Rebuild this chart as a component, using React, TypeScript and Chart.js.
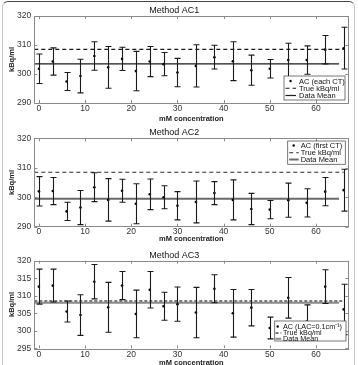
import React, { useEffect, useRef } from "react";
import { Chart, registerables } from "chart.js";

Chart.register(...registerables);

// ---------- data ----------
const concentrations = [0, 3, 6, 9, 12, 15, 18, 21, 24, 27, 30, 34, 38, 42, 46, 50, 54, 58, 62, 66];

const ac1Values = [301.8, 304.3, 297.4, 299.3, 306.2, 302.3, 305.2, 301.0, 304.3, 303.4, 300.5, 302.8, 305.8, 304.4, 301.3, 301.8, 304.8, 304.8, 308.4, 308.9];
const ac1Errors = [5.1, 4.7, 3.1, 5.8, 4.9, 7.2, 4.0, 6.8, 5.2, 4.0, 4.9, 7.3, 4.1, 6.7, 5.2, 3.2, 5.8, 4.9, 4.9, 7.2];

const ac2Values = [302.0, 302.1, 295.2, 296.5, 303.4, 299.1, 302.2, 297.8, 301.0, 300.0, 297.1, 298.4, 301.4, 299.1, 296.0, 295.8, 299.0, 298.1, 301.9, 302.4];
const ac2Errors = [5.0, 4.6, 3.1, 5.8, 4.9, 7.2, 3.9, 6.8, 5.2, 3.9, 4.8, 7.1, 3.9, 6.8, 5.3, 3.1, 5.8, 4.8, 4.8, 7.1];

const ac3Values = [312.6, 312.9, 305.5, 304.5, 314.0, 306.7, 312.9, 304.8, 311.7, 307.0, 307.6, 305.2, 312.0, 305.0, 306.6, 300.8, 309.4, 302.6, 312.6, 306.1];
const ac3Errors = [5.0, 4.7, 3.0, 5.8, 4.9, 7.1, 4.0, 6.8, 5.2, 4.0, 4.9, 7.2, 4.0, 6.8, 5.2, 3.1, 5.8, 4.8, 4.8, 7.2];

const trueValue = 308.5;
const dataMeans = [303.5, 299.5, 308.0];
const trueLineX = [-1, 66];
const meanLineX = [-1, 65];

const xTickValues = [0, 10, 20, 30, 40, 50, 60];
const yTicksAC12 = [290, 300, 310, 320];
const yTicksAC3 = [295, 300, 305, 310, 315, 320];

const panelTitles = ["Method AC1", "Method AC2", "Method AC3"];
const pointLabels = ["AC (each CT)", "AC (first CT)", "AC (LAC=0.1cm\u207B\u00B9)"];
const trueLabel = "True kBq/ml";
const meanLabel = "Data Mean";
const xAxisLabel = "mM concentration";
const yAxisLabel = "kBq/ml";

// ---------- styles / layout ----------
const FAMILY = "'Liberation Sans', Arial, Helvetica, sans-serif";

const panels = [
  {
    top: 0, height: 123, titlePad: 5.2, xAxisHeight: 20, tickPad: 1,
    yMin: 290, yMax: 320, yTicks: yTicksAC12,
    values: ac1Values, errors: ac1Errors, mean: dataMeans[0],
    title: panelTitles[0], pointLabel: pointLabels[0],
    meanStyle: { color: "#1a1a1a", width: 1.2 },
    trueStyle: { color: "#1a1a1a", width: 1.1, dash: [4, 3] },
    legend: { anchor: "bottom", dx: 3.3, dy: 3, w: 61, h: 24, rows: [5, 12.3, 19.5], s0: 1.5, s1: 12, dot: 6.5, tx: 15, font: 7.5 },
  },
  {
    top: 123, height: 120, titlePad: 4.5, xAxisHeight: 16.3, tickPad: 0,
    yMin: 290, yMax: 320, yTicks: yTicksAC12,
    values: ac2Values, errors: ac2Errors, mean: dataMeans[1],
    title: panelTitles[1], pointLabel: pointLabels[1],
    meanStyle: { color: "#6a6a6a", width: 2 },
    trueStyle: { color: "#2a2a2a", width: 1.1, dash: [4, 3] },
    legend: { anchor: "top", dx: 3, dy: 2.7, w: 57.6, h: 23.3, rows: [4.5, 11.7, 18.5], s0: 1.5, s1: 11, dot: 6, tx: 13, font: 7.5 },
  },
  {
    top: 245, height: 122, titlePad: 4.9, xAxisHeight: 18.7, tickPad: 1,
    yMin: 295, yMax: 320, yTicks: yTicksAC3,
    values: ac3Values, errors: ac3Errors, mean: dataMeans[2],
    title: panelTitles[2], pointLabel: pointLabels[2],
    meanStyle: { color: "#8a8a8a", width: 2 },
    trueStyle: { color: "#7a7a7a", width: 2, dash: [3, 2] },
    legend: { anchor: "bottom", dx: 2.3, dy: 7.3, w: 71.3, h: 20, rows: [5.5, 12, 17.8], s0: 0.8, s1: 6.5, dot: 3, tx: 8.3, font: 7.2 },
  },
];

const decorPlugin = {
  id: "panelDecor",
  afterDatasetsDraw(chart: any, _args: any, opts: any) {
    const { ctx, chartArea: ca } = chart;
    const xs = chart.scales.x;
    const ys = chart.scales.y;
    ctx.save();

    // error bars
    ctx.strokeStyle = "#1a1a1a";
    ctx.lineWidth = 1.1;
    opts.values.forEach((v: number, i: number) => {
      const px = Math.round(xs.getPixelForValue(opts.xs[i])) + 0.5;
      const top = ys.getPixelForValue(v + opts.errors[i]);
      const bot = ys.getPixelForValue(v - opts.errors[i]);
      ctx.beginPath();
      ctx.moveTo(px, top);
      ctx.lineTo(px, bot);
      ctx.moveTo(px - 3, top);
      ctx.lineTo(px + 3, top);
      ctx.moveTo(px - 3, bot);
      ctx.lineTo(px + 3, bot);
      ctx.stroke();
    });

    // axes box
    ctx.strokeStyle = "#8a8a8a";
    ctx.lineWidth = 1;
    ctx.strokeRect(Math.round(ca.left) + 0.5, Math.round(ca.top) + 0.5, Math.round(ca.right - ca.left), Math.round(ca.bottom - ca.top));

    // inward tick marks
    ctx.beginPath();
    opts.xTicks.forEach((t: number) => {
      const px = Math.round(xs.getPixelForValue(t)) + 0.5;
      ctx.moveTo(px, ca.bottom);
      ctx.lineTo(px, ca.bottom - 3);
      ctx.moveTo(px, ca.top);
      ctx.lineTo(px, ca.top + 3);
    });
    opts.yTicks.forEach((t: number) => {
      const py = Math.round(ys.getPixelForValue(t)) + 0.5;
      ctx.moveTo(ca.left, py);
      ctx.lineTo(ca.left + 3, py);
      ctx.moveTo(ca.right, py);
      ctx.lineTo(ca.right - 3, py);
    });
    ctx.stroke();

    // legend
    const lg = opts.legend;
    const lx = ca.right - lg.dx - lg.w;
    const ly = lg.anchor === "bottom" ? ca.bottom - lg.dy - lg.h : ca.top + lg.dy;
    ctx.fillStyle = "#ffffff";
    ctx.fillRect(lx, ly, lg.w, lg.h);
    ctx.strokeStyle = "#555";
    ctx.lineWidth = 0.8;
    ctx.strokeRect(lx, ly, lg.w, lg.h);

    const ds = chart.data.datasets;
    // row 0 marker
    ctx.fillStyle = "#000";
    ctx.beginPath();
    ctx.arc(lx + lg.dot, ly + lg.rows[0], 1.2, 0, Math.PI * 2);
    ctx.fill();
    // row 1 dashed
    ctx.strokeStyle = opts.trueStyle.color;
    ctx.lineWidth = opts.trueStyle.width;
    ctx.setLineDash(opts.trueStyle.dash);
    ctx.beginPath();
    ctx.moveTo(lx + lg.s0, ly + lg.rows[1]);
    ctx.lineTo(lx + lg.s1, ly + lg.rows[1]);
    ctx.stroke();
    ctx.setLineDash([]);
    // row 2 solid
    ctx.strokeStyle = opts.meanStyle.color;
    ctx.lineWidth = opts.meanStyle.width;
    ctx.beginPath();
    ctx.moveTo(lx + lg.s0, ly + lg.rows[2]);
    ctx.lineTo(lx + lg.s1, ly + lg.rows[2]);
    ctx.stroke();

    ctx.fillStyle = "#111";
    ctx.font = `${lg.font}px ${FAMILY}`;
    ctx.textBaseline = "middle";
    ctx.textAlign = "left";
    ds.forEach((d: any, i: number) => {
      ctx.fillText(d.label, lx + lg.tx, ly + lg.rows[i] + 0.5);
    });

    ctx.restore();
  },
};

function makeConfig(p: any): any {
  return {
    type: "scatter",
    data: {
      datasets: [
        {
          label: p.pointLabel,
          data: concentrations.map((c, i) => ({ x: c, y: p.values[i] })),
          showLine: false,
          pointRadius: 1.3,
          pointBackgroundColor: "#000",
          pointBorderWidth: 0,
          order: 1,
        },
        {
          label: trueLabel,
          data: trueLineX.map((x) => ({ x, y: trueValue })),
          showLine: true,
          borderColor: p.trueStyle.color,
          borderWidth: p.trueStyle.width,
          borderDash: p.trueStyle.dash,
          pointRadius: 0,
          order: 2,
        },
        {
          label: meanLabel,
          data: meanLineX.map((x) => ({ x, y: p.mean })),
          showLine: true,
          borderColor: p.meanStyle.color,
          borderWidth: p.meanStyle.width,
          pointRadius: 0,
          order: 3,
        },
      ],
    },
    options: {
      animation: false,
      responsive: false,
      events: [],
      layout: { padding: { left: 0, right: 9.7, top: 0, bottom: 0 } },
      plugins: {
        legend: { display: false },
        tooltip: { enabled: false },
        title: {
          display: true,
          text: p.title,
          color: "#111",
          font: { size: 9, family: FAMILY, weight: "normal" },
          padding: { top: p.titlePad, bottom: 0 },
        },
        panelDecor: {
          xs: concentrations,
          values: p.values,
          errors: p.errors,
          xTicks: xTickValues,
          yTicks: p.yTicks,
          legend: p.legend,
          trueStyle: p.trueStyle,
          meanStyle: p.meanStyle,
        },
      },
      scales: {
        x: {
          type: "linear",
          min: -1,
          max: 67,
          afterBuildTicks: (s: any) => {
            s.ticks = xTickValues.map((v) => ({ value: v }));
          },
          afterFit: (s: any) => {
            s.height = p.xAxisHeight;
          },
          grid: { display: false, drawTicks: false },
          border: { display: false },
          ticks: { color: "#333", font: { size: 8.5, family: FAMILY }, padding: p.tickPad, maxRotation: 0 },
          title: {
            display: true,
            text: xAxisLabel,
            color: "#222",
            font: { size: 7.5, family: FAMILY, weight: "bold" },
            padding: 0,
          },
        },
        y: {
          type: "linear",
          min: p.yMin,
          max: p.yMax,
          afterBuildTicks: (s: any) => {
            s.ticks = p.yTicks.map((v: number) => ({ value: v }));
          },
          afterFit: (s: any) => {
            s.width = 34.3;
          },
          grid: { display: false, drawTicks: false },
          border: { display: false },
          ticks: { color: "#333", font: { size: 8.5, family: FAMILY }, padding: 3 },
          title: {
            display: true,
            text: yAxisLabel,
            color: "#222",
            font: { size: 7.5, family: FAMILY, weight: "bold" },
            padding: { top: 7.5, bottom: 0 },
          },
        },
      },
    },
    plugins: [decorPlugin],
  };
}

function Panel({ p }: { p: any }) {
  const ref = useRef<HTMLCanvasElement | null>(null);
  useEffect(() => {
    if (!ref.current) return;
    const chart = new Chart(ref.current, makeConfig(p));
    return () => chart.destroy();
  }, [p]);
  return (
    <canvas
      ref={ref}
      width={358}
      height={p.height}
      style={{ position: "absolute", left: 0, top: p.top, width: 358, height: p.height, display: "block" }}
    />
  );
}

export default function App() {
  return (
    <div
      style={{
        position: "fixed",
        left: 0,
        top: 0,
        width: 358,
        height: 365,
        overflow: "hidden",
        background: "#ffffff",
      }}
    >
      <div
        style={{
          position: "absolute",
          left: 2,
          top: 1,
          width: 353,
          height: 380,
          boxSizing: "border-box",
          border: "1px solid #c8c8c8",
          borderTop: "1.5px solid #444",
          borderRadius: 6,
        }}
      />
      {panels.map((p, i) => (
        <Panel key={i} p={p} />
      ))}
    </div>
  );
}
